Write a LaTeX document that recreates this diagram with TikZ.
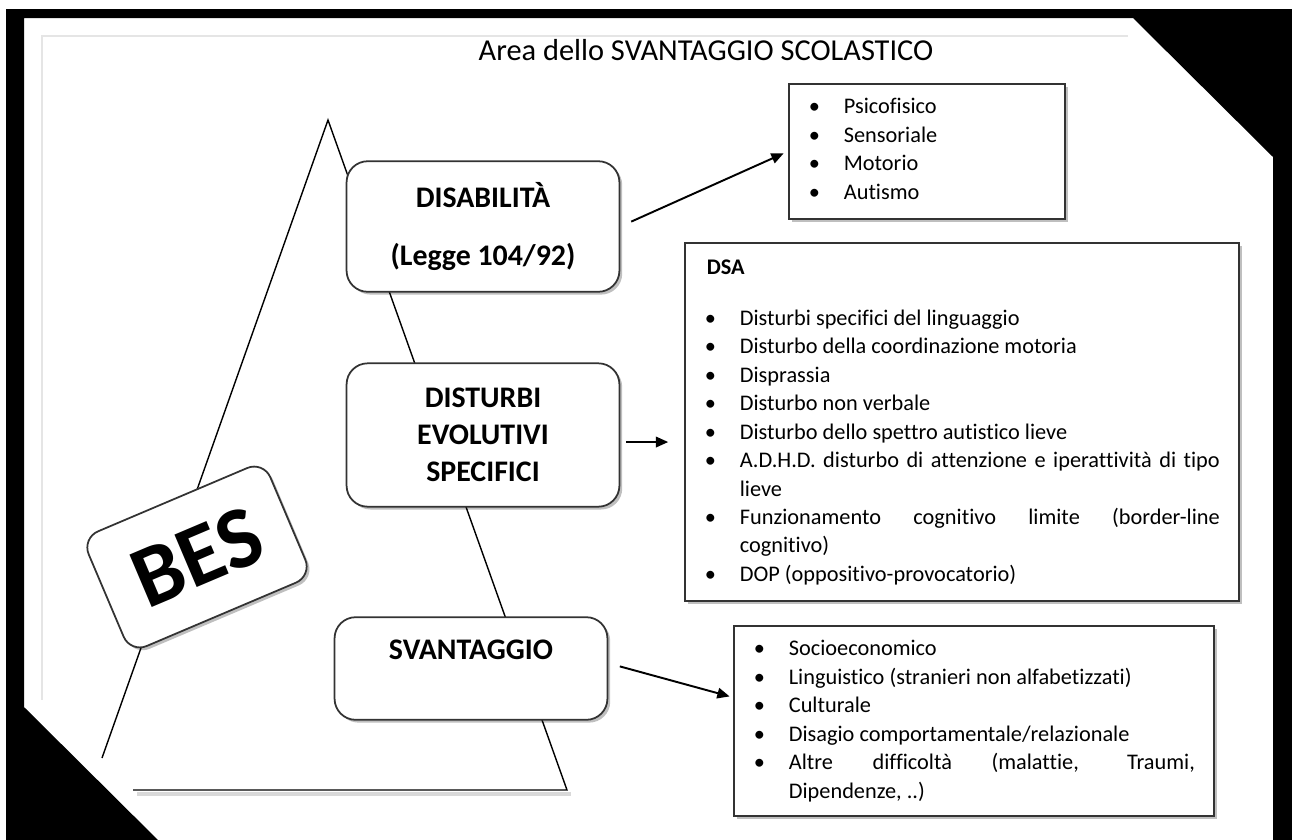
\documentclass[tikz,border=0pt]{standalone}
\usepackage{fontspec}
\setmainfont{Carlito}[Ligatures=CommonOff]
\usetikzlibrary{arrows.meta,shadows}

\newlength\pxu
\setlength\pxu{0.02cm}
% one bullet line of a list
\newcommand{\voce}[1]{\par\noindent\hangindent=55\pxu\hangafter=1\hspace*{20\pxu}\makebox[35\pxu][l]{\textbullet}\strut#1}

\tikzset{
  ombra/.style={drop shadow={shadow xshift=1.6pt,shadow yshift=-1.6pt,fill=black,opacity=.25}},
  blocco/.style={draw=black!80, line width=1pt, fill=white, rounded corners=12pt, inner sep=0pt,
    align=center, minimum width=155.3pt, font=\fontsize{17}{21}\selectfont\bfseries, ombra},
  lista/.style={draw=black!80, line width=1pt, fill=white, inner sep=0pt, anchor=north west,
    font=\fontsize{12.7}{16.2}\selectfont, ombra},
  freccia/.style={-{Triangle[length=7pt,width=6pt]}, line width=1.1pt},
}

\begin{document}
\begin{tikzpicture}[x=0.02cm, y=-0.02cm]
  \useasboundingbox (0,0) rectangle (1292,839);
  % black frame with cut corners
  \fill[black, even odd rule] (6,9) rectangle (1300,850)
    (24,18) -- (1133,18) -- (1273,157) -- (1273,850) -- (168,850) -- (24,707) -- cycle;
  \draw[black!10, line width=1.2pt] (1128,36) -- (42,36) -- (42,700);

  \node[anchor=base, font=\fontsize{17.3}{20}\selectfont] (titolo) at (706,60) {Area dello SVANTAGGIO SCOLASTICO};

  % pyramid
  \draw[black!15, line width=2pt] (137,794) -- (571,794);
  \draw[line width=0.8pt] (102,758) -- (328,120) -- (567,790) -- (133,790);

  \node[blocco, minimum height=74.3pt, font=\fontsize{17}{33}\selectfont\bfseries] (dis) at (483,226.5) {DISABILITÀ\\(Legge 104/92)};
  \node[blocco, minimum height=81.6pt] (dev) at (483,435) {DISTURBI\\EVOLUTIVI\\SPECIFICI};
  \node[blocco, minimum height=58.4pt] (sva) at (471,668.5) {SVANTAGGIO\\ \mbox{}};
  \node[blocco, rotate=23, minimum width=112.3pt, minimum height=70.9pt, rounded corners=10pt,
    font=\fontsize{50}{50}\selectfont\bfseries] (bes) at (197,557) {BES};

  \node[lista] (psi) at (788,83) {\begin{minipage}[t][135\pxu][t]{276\pxu}
    \vspace*{10\pxu}
    \voce{Psicofisico}
    \voce{Sensoriale}
    \voce{Motorio}
    \voce{Autismo}
  \end{minipage}};

  \node[lista] (dsa) at (684,242) {\begin{minipage}[t][358\pxu][t]{554\pxu}
    \hyphenpenalty=10000 \rightskip=19\pxu
    \vspace*{12\pxu}
    \noindent\hspace*{22\pxu}\strut\textbf{DSA}\par
    \vspace{22\pxu}
    \voce{Disturbi specifici del linguaggio}
    \voce{Disturbo della coordinazione motoria}
    \voce{Disprassia}
    \voce{Disturbo non verbale}
    \voce{Disturbo dello spettro autistico lieve}
    \voce{A.D.H.D. disturbo di attenzione e iperattività di tipo\linebreak lieve}
    \voce{Funzionamento cognitivo limite (border-line\linebreak cognitivo)}
    \voce{DOP (oppositivo-provocatorio)}
  \end{minipage}};

  \node[lista] (soc) at (733,625) {\begin{minipage}[t][190\pxu][t]{480\pxu}
    \hyphenpenalty=10000 \rightskip=19\pxu
    \vspace*{10\pxu}
    \voce{Socioeconomico}
    \voce{Linguistico (stranieri non alfabetizzati)}
    \voce{Culturale}
    \voce{Disagio comportamentale/relazionale}
    \voce{Altre difficoltà (malattie, Traumi,\linebreak Dipendenze, ..)}
  \end{minipage}};

  % arrows
  \draw[freccia, shorten <=6.8pt, shorten >=2.7pt] (dis.east) -- (psi.west);
  \draw[freccia, shorten <=3.4pt, shorten >=9pt] ([yshift=-4pt]dev.east) -- ([yshift=-4pt]dev.east -| dsa.west);
  \draw[freccia, shorten <=6.8pt, shorten >=2pt] ([yshift=3pt]sva.east) -- ([yshift=13.4pt]soc.west);
\end{tikzpicture}
\end{document}
